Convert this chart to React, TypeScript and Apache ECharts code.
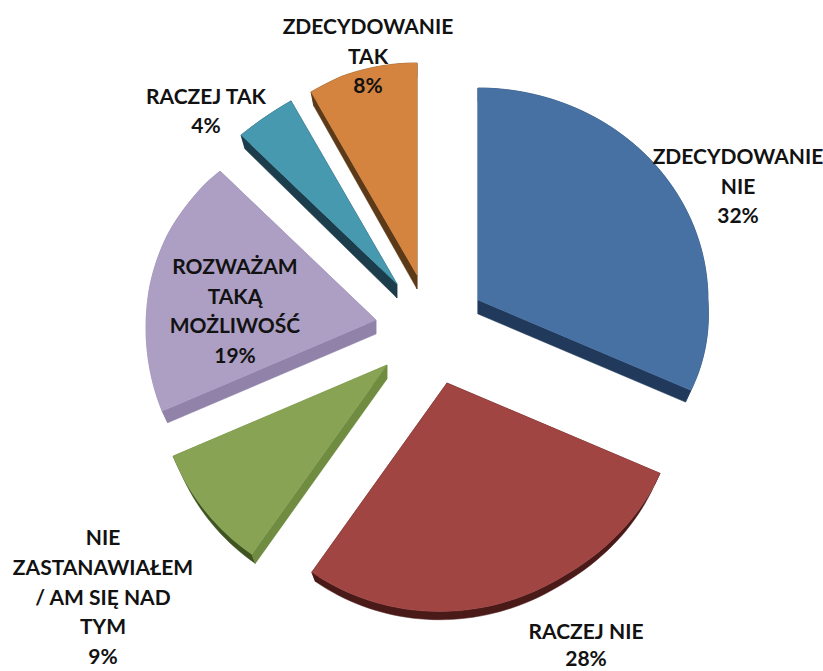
import React, { useEffect, useRef } from "react";
import * as echarts from "echarts";

const sliceNames = [
  "ZDECYDOWANIE\nNIE",
  "RACZEJ NIE",
  "NIE\nZASTANAWIAŁEM\n/ AM SIĘ NAD\nTYM",
  "ROZWAŻAM\nTAKĄ\nMOŻLIWOŚĆ",
  "RACZEJ TAK",
  "ZDECYDOWANIE\nTAK",
];
const sliceValues = [32, 28, 9, 19, 4, 8];

// Layout and styles, kept apart from the data
const CENTER = [420, 325];
const RX = 230;
const RY = 212;
const DEPTH = 14;
const explode = [[58, -25], [27, 58], [-33, 40], [-44, -5], [-23, -41], [-3, -50]];
const labelAt = [[738, 185], [586, 644], [103, 596], [235, 310], [206, 110], [368, 55]];
const labelLineHeight = [29.7, 27, 29.7, 29.7, 29.7, 29.7];
const topColors = ["#4771A3", "#A14543", "#87A353", "#AD9FC4", "#4799B0", "#D4843F"];
const edgeColors = ["#213A5C", "#4A1A19", "#6F8C40", "#9082A8", "#1C3D4B", "#5C3A18"];
const arcColors = ["#213A5C", "#4A1A19", "#3F5420", "#9082A8", "#1C3D4B", "#5C3A18"];
const total = sliceValues.reduce((a, b) => a + b, 0);
const RAD = Math.PI / 180;

// A lobe of the given height around an angle, zero outside its half-width
const lobe = (t: number, centerDeg: number, halfDeg: number) => {
  const d = t / RAD - centerDeg;
  return Math.abs(d) < halfDeg ? Math.cos((d / halfDeg) * (Math.PI / 2)) : 0;
};
// Perspective of the tilted pie: the front bulges downwards, the rim tapers
const rimX = (t: number) =>
  RX * Math.sin(t) + 5 * lobe(t, 120, 30) + 5 * lobe(t, 335, 22.5);
const rimY = (t: number) =>
  -RY * Math.cos(t) + 18 * Math.max(0, Math.cos(t - 205 * RAD)) + 6 * lobe(t, 310, 30);

export default function App() {
  const ref = useRef<HTMLDivElement>(null);
  useEffect(() => {
    document.body.style.margin = "0";
    const chart = echarts.init(ref.current!, null, { renderer: "svg" });
    const renderItem = (params: any, api: any) => {
      const i = params.dataIndex;
      const before = sliceValues.slice(0, i).reduce((a, b) => a + b, 0);
      const a0 = (before / total) * Math.PI * 2;
      const a1 = a0 + (api.value(0) / total) * Math.PI * 2;
      const ax = CENTER[0] + explode[i][0];
      const ay = CENTER[1] + explode[i][1];
      const arc: number[][] = [];
      const steps = Math.max(4, Math.ceil((a1 - a0) / 0.03));
      for (let s = 0; s <= steps; s++) {
        const t = a0 + ((a1 - a0) * s) / steps;
        arc.push([ax + rimX(t), ay + rimY(t)]);
      }
      const down = (p: number[]) => [
        p[0] + (ax - p[0]) * 0.026,
        p[1] + DEPTH - Math.max(0, p[1] - ay) * 0.025,
      ];
      const apex = [ax, ay];
      const first = arc[0];
      const last = arc[arc.length - 1];
      const poly = (points: number[][], fill: string) => ({
        type: "polygon",
        shape: { points },
        style: { fill, stroke: fill, lineWidth: 0.5 },
      });
      return {
        type: "group",
        children: [
          poly([...arc, ...arc.slice().reverse().map(down)], arcColors[i]),
          poly([apex, first, down(first), down(apex)], edgeColors[i]),
          poly([apex, last, down(last), down(apex)], edgeColors[i]),
          poly([apex, ...arc], topColors[i]),
        ],
      };
    };
    const labelItem = (params: any, api: any) => {
      const i = params.dataIndex;
      return {
        type: "text",
        style: {
          text: `${sliceNames[i]}\n${api.value(0)}%`,
          x: labelAt[i][0],
          y: labelAt[i][1],
          align: "center",
          verticalAlign: "middle",
          fill: "#121212",
          font: 'bold 21px Lato, "Open Sans", sans-serif',
          lineHeight: labelLineHeight[i],
        },
      };
    };
    chart.setOption({
      animation: false,
      backgroundColor: "#ffffff",
      series: [
        { type: "custom", coordinateSystem: "none", renderItem, data: sliceValues, silent: true, z: 1 },
        { type: "custom", coordinateSystem: "none", renderItem: labelItem, data: sliceValues, silent: true, z: 2 },
      ],
    });
    return () => chart.dispose();
  }, []);
  return <div ref={ref} style={{ width: 823, height: 671 }} />;
}
